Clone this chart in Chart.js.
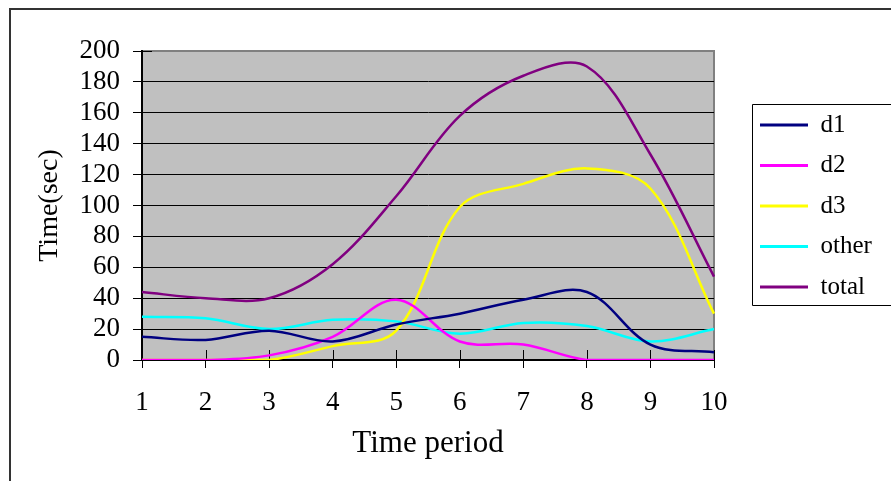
<!DOCTYPE html>
<html>
<head>
<meta charset="utf-8">
<script src="https://cdn.jsdelivr.net/npm/chart.js@4/dist/chart.umd.min.js"></script>
<style>
  html, body { margin: 0; padding: 0; background: #fff; }
  canvas { display: block; }
</style>
</head>
<body>
<canvas id="chart" width="891" height="481"></canvas>
<script>
// time periods on the x axis
const periods = ["1", "2", "3", "4", "5", "6", "7", "8", "9", "10"];

// seconds per period
const d1 = [15, 13, 19, 12, 23, 30, 39, 44, 10, 5];
const d2 = [0, 0, 3, 15, 39, 12, 10, 0, 0, 0];
const d3 = [0, 0, 0, 9, 19, 99, 114, 124, 111, 30];
const other = [28, 27, 20, 26, 25, 17, 24, 22, 12, 20];
const total = [44, 40, 40, 62, 106, 158, 184, 190, 133, 54];

const seriesNames = ["d1", "d2", "d3", "other", "total"];
const seriesColors = ["#000080", "#ff00ff", "#ffff00", "#00ffff", "#800080"];
const seriesData = [d1, d2, d3, other, total];

const yTicks = [0, 20, 40, 60, 80, 100, 120, 140, 160, 180, 200];

const serif = "'Liberation Serif', 'Times New Roman', serif";

// page frame, grey plot area and its border
const frame = {
  id: "frame",
  beforeDraw(chart) {
    const { ctx, chartArea: a } = chart;
    ctx.save();
    ctx.fillStyle = "#fff";
    ctx.fillRect(0, 0, chart.width, chart.height);
    ctx.strokeStyle = "#333";
    ctx.lineWidth = 2;
    ctx.beginPath();
    ctx.moveTo(10, chart.height);
    ctx.lineTo(10, 9);
    ctx.lineTo(chart.width, 9);
    ctx.stroke();
    ctx.fillStyle = "#c0c0c0";
    ctx.fillRect(a.left, a.top, a.width, a.height);
    ctx.strokeStyle = "#808080";
    ctx.lineWidth = 2;
    ctx.strokeRect(a.left, a.top, a.width, a.height);
    ctx.restore();
  },
  beforeDatasetsDraw(chart) {
    // tick marks also poke into the plot a little
    const { ctx, chartArea: a, scales } = chart;
    ctx.save();
    ctx.strokeStyle = "#000";
    ctx.lineWidth = 1;
    ctx.beginPath();
    scales.x.ticks.forEach((t, i) => {
      const x = Math.round(scales.x.getPixelForTick(i)) + 0.5;
      ctx.moveTo(x, a.bottom);
      ctx.lineTo(x, a.bottom - 10);
    });
    const yTop = Math.round(scales.y.getPixelForValue(200)) + 0.5;
    ctx.moveTo(a.left, yTop);
    ctx.lineTo(a.left + 10, yTop);
    ctx.stroke();
    ctx.restore();
  },
};

// move the legend out to the right and give it a box
const legendBox = {
  id: "legendBox",
  afterLayout(chart) {
    const lg = chart.legend;
    lg.left = 744.5;
    lg.top = 97;
    lg.right = 900;
    lg.bottom = 330;
    lg.width = lg.right - lg.left;
    lg.height = lg.bottom - lg.top;
  },
  afterDraw(chart) {
    const { ctx } = chart;
    ctx.save();
    ctx.strokeStyle = "#000";
    ctx.lineWidth = 1;
    ctx.beginPath();
    ctx.moveTo(chart.width, 104.5);
    ctx.lineTo(752.5, 104.5);
    ctx.lineTo(752.5, 305.5);
    ctx.lineTo(chart.width, 305.5);
    ctx.stroke();
    ctx.restore();
  },
};

new Chart(document.getElementById("chart").getContext("2d"), {
  type: "line",
  data: {
    labels: periods,
    datasets: seriesNames.map((name, i) => ({
      label: name,
      data: seriesData[i],
      borderColor: seriesColors[i],
      backgroundColor: seriesColors[i],
      borderWidth: 2.5,
      pointRadius: 0,
      fill: false,
      tension: 0.35,
    })),
  },
  options: {
    responsive: false,
    animation: false,
    layout: { padding: { top: 51, right: 177, left: 0, bottom: 0 } },
    plugins: {
      tooltip: { enabled: false },
      legend: {
        position: "chartArea",
        align: "start",
        labels: {
          boxWidth: 48,
          boxHeight: 3,
          padding: 15.5,
          color: "#000",
          font: { family: serif, size: 25 },
          generateLabels: (chart) =>
            Chart.defaults.plugins.legend.labels
              .generateLabels(chart)
              .map((l) => ({ ...l, lineWidth: 0 })),
        },
      },
    },
    scales: {
      x: {
        type: "category",
        offset: false,
        grid: {
          drawOnChartArea: false,
          drawTicks: true,
          tickLength: 8,
          color: "#000",
        },
        border: { color: "#000", width: 2 },
        ticks: {
          color: "#000",
          font: { family: serif, size: 27 },
          padding: 19,
          maxRotation: 0,
          autoSkip: false,
        },
        title: {
          display: true,
          text: "Time period",
          color: "#000",
          font: { family: serif, size: 31 },
          padding: { top: 0, bottom: 19 },
        },
        afterFit: (s) => {
          s.height = 121;
        },
      },
      y: {
        min: 0,
        max: 200,
        afterBuildTicks: (s) => {
          s.ticks = yTicks.map((v) => ({ value: v }));
        },
        grid: {
          color: (c) => (c.tick && c.tick.value === 200 ? "#808080" : "#000"),
          tickColor: "#000",
          lineWidth: 1,
          tickLength: 9,
        },
        border: { color: "#000", width: 2 },
        ticks: {
          color: "#000",
          font: { family: serif, size: 27 },
          padding: 13,
          autoSkip: false,
        },
        title: {
          display: true,
          text: "Time(sec)",
          color: "#000",
          font: { family: serif, size: 28 },
          padding: { top: 33, bottom: 0 },
        },
        afterFit: (s) => {
          s.width = 142;
        },
      },
    },
  },
  plugins: [frame, legendBox],
});
</script>
</body>
</html>
